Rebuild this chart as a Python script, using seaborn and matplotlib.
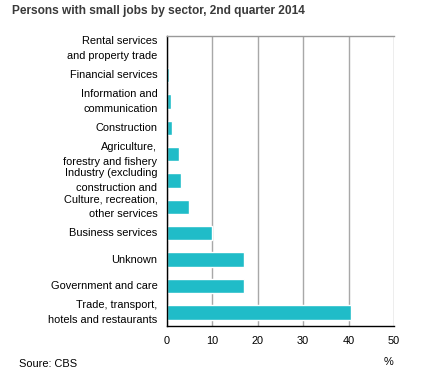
import matplotlib
matplotlib.use("Agg")
import matplotlib.pyplot as plt
import seaborn as sns
import pandas as pd

categories = [
    "Rental services\nand property trade",
    "Financial services",
    "Information and\ncommunication",
    "Construction",
    "Agriculture,\nforestry and fishery",
    "Industry (excluding\nconstruction and",
    "Culture, recreation,\nother services",
    "Business services",
    "Unknown",
    "Government and care",
    "Trade, transport,\nhotels and restaurants",
]
values = [0.0, 0.6, 1.0, 1.2, 2.7, 3.2, 4.9, 10.1, 17.0, 17.0, 40.6]
xticks = [0, 10, 20, 30, 40, 50]

title = "Persons with small jobs by sector, 2nd quarter 2014"
source = "Soure: CBS"
unit = "%"

sns.set_style("white")
plt.rcParams["font.family"] = ["Liberation Sans", "DejaVu Sans"]

df = pd.DataFrame({"sector": categories, "value": values})

fig = plt.figure(figsize=(4.26, 3.79), dpi=100)
ax = fig.add_axes([166.5 / 426, 1 - 325.5 / 379, (394 - 166.5) / 426, (325.5 - 35.5) / 379])

sns.barplot(data=df, x="value", y="sector", orient="h", color="#20BCC8",
            saturation=1, width=0.55, ax=ax)

ax.set_xlim(0, 50)
ax.set_ylim(10.5, -0.5)
ax.set_xticks(xticks)
ax.set_xlabel("")
ax.set_ylabel("")
ax.grid(axis="x", color="#a8a8a8", linewidth=1)
ax.set_axisbelow(True)
for s in ["left", "bottom"]:
    ax.spines[s].set_color("#000000")
    ax.spines[s].set_linewidth(1)
for s in ["top", "right"]:
    ax.spines[s].set_color("#999999")
    ax.spines[s].set_linewidth(1)
ax.spines["right"].set_visible(False)

ax.tick_params(axis="y", length=0, pad=6.5, labelsize=7.9, labelcolor="#000000")
ax.tick_params(axis="x", length=3, width=1, color="#000000", pad=4.5,
               labelsize=7.9, labelcolor="#000000", direction="out")
for t in ax.get_yticklabels():
    t.set_linespacing(1.6)
    t.set_verticalalignment("center")

fig.text(12 / 426, 1 - 11 / 379, title, fontsize=8.6, fontweight="bold",
         color="#3a3a3a", ha="left", va="center")
fig.text(19 / 426, 1 - 364 / 379, source, fontsize=7.9, color="#000000",
         ha="left", va="center")
fig.text(388 / 426, 1 - 362 / 379, unit, fontsize=7.9, color="#000000",
         ha="center", va="center")

fig.savefig("out.png", dpi=100)
